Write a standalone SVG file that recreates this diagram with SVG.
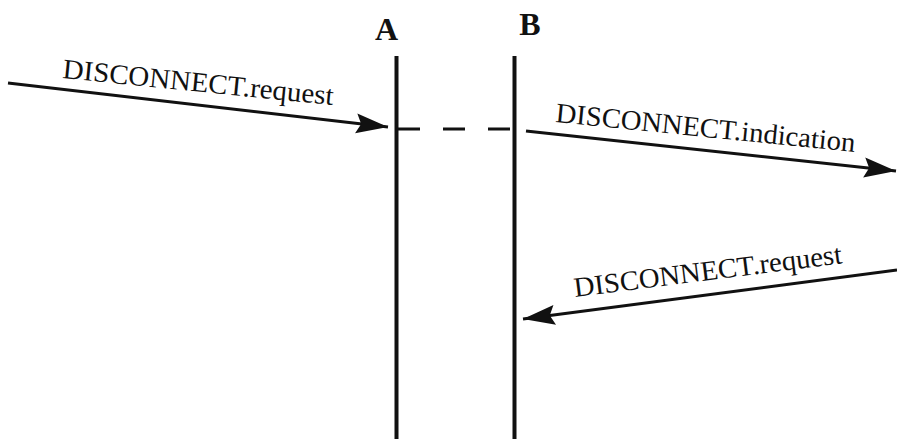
<svg xmlns="http://www.w3.org/2000/svg" width="897" height="439" viewBox="0 0 897 439">
  <style>
    .life { stroke: #111; stroke-width: 4; fill: none; }
    .msg { stroke: #111; stroke-width: 3; fill: none; }
    .dash { stroke: #111; stroke-width: 3; fill: none; stroke-dasharray: 22 23; }
    .lbl { font-family: "Liberation Serif", "Times New Roman", serif; font-size: 28px; fill: #111; }
    .head { font-family: "Liberation Serif", "Times New Roman", serif; font-size: 32px; font-weight: bold; fill: #111; }
  </style>
  <defs>
    <marker id="arrow" markerUnits="userSpaceOnUse" markerWidth="36" markerHeight="24" viewBox="-33 -12 36 24" refX="0" refY="0" orient="auto">
      <path d="M0,0 L-32,-10 L-27,0 L-32,10 Z" fill="#111"/>
    </marker>
  </defs>

  <rect width="897" height="439" fill="#fff"/>

  <g id="entity-a">
    <text class="head" x="386.5" y="40" text-anchor="middle">A</text>
    <line class="life" x1="396.5" y1="56" x2="396.5" y2="439"/>
  </g>

  <g id="entity-b">
    <text class="head" x="530" y="35" text-anchor="middle">B</text>
    <line class="life" x1="514.5" y1="56" x2="514.5" y2="439"/>
  </g>

  <g id="connectors">
    <!-- link between A and B -->
    <line class="dash" x1="398" y1="129" x2="513" y2="129"/>
    <!-- incoming request at A -->
    <line class="msg" x1="8" y1="83" x2="388" y2="127" marker-end="url(#arrow)"/>
    <!-- indication leaving B -->
    <line class="msg" x1="526" y1="131" x2="896" y2="171" marker-end="url(#arrow)"/>
    <!-- request arriving at B -->
    <line class="msg" x1="897" y1="270" x2="523" y2="319" marker-end="url(#arrow)"/>
  </g>

  <g id="labels">
    <text class="lbl" x="62" y="78" textLength="272" lengthAdjust="spacingAndGlyphs" transform="rotate(5.7 62 78)">DISCONNECT.request</text>
    <text class="lbl" x="555" y="122" textLength="301" lengthAdjust="spacingAndGlyphs" transform="rotate(5.7 555 122)">DISCONNECT.indication</text>
    <text class="lbl" x="575" y="297" textLength="270" lengthAdjust="spacingAndGlyphs" transform="rotate(-7.2 575 297)">DISCONNECT.request</text>
  </g>
</svg>
